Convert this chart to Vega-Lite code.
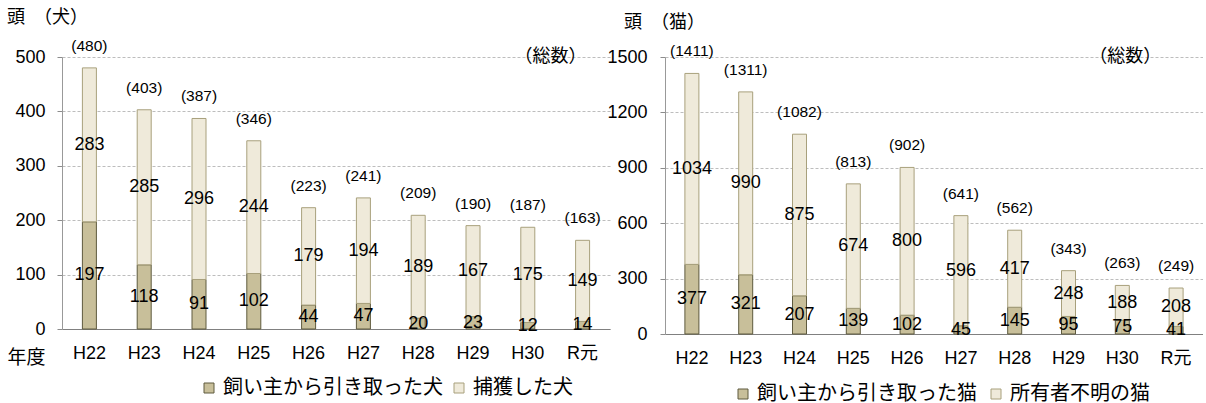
{
  "$schema": "https://vega.github.io/schema/vega-lite/v6.json",
  "padding": {"left": 7, "top": 8, "right": 0, "bottom": 6},
  "background": "white",
  "bounds": "flush",
  "spacing": 55,
  "datasets": {
    "dogs": [
      {"year": "H22", "type": "飼い主から引き取った犬", "n": 197}, {"year": "H22", "type": "捕獲した犬", "n": 283},
      {"year": "H23", "type": "飼い主から引き取った犬", "n": 118}, {"year": "H23", "type": "捕獲した犬", "n": 285},
      {"year": "H24", "type": "飼い主から引き取った犬", "n": 91}, {"year": "H24", "type": "捕獲した犬", "n": 296},
      {"year": "H25", "type": "飼い主から引き取った犬", "n": 102}, {"year": "H25", "type": "捕獲した犬", "n": 244},
      {"year": "H26", "type": "飼い主から引き取った犬", "n": 44}, {"year": "H26", "type": "捕獲した犬", "n": 179},
      {"year": "H27", "type": "飼い主から引き取った犬", "n": 47}, {"year": "H27", "type": "捕獲した犬", "n": 194},
      {"year": "H28", "type": "飼い主から引き取った犬", "n": 20}, {"year": "H28", "type": "捕獲した犬", "n": 189},
      {"year": "H29", "type": "飼い主から引き取った犬", "n": 23}, {"year": "H29", "type": "捕獲した犬", "n": 167},
      {"year": "H30", "type": "飼い主から引き取った犬", "n": 12}, {"year": "H30", "type": "捕獲した犬", "n": 175},
      {"year": "R元", "type": "飼い主から引き取った犬", "n": 14}, {"year": "R元", "type": "捕獲した犬", "n": 149}
    ],
    "dogTotals": [
      {"year": "H22", "total": 480, "label": "(480)"}, {"year": "H23", "total": 403, "label": "(403)"},
      {"year": "H24", "total": 387, "label": "(387)"}, {"year": "H25", "total": 346, "label": "(346)"},
      {"year": "H26", "total": 223, "label": "(223)"}, {"year": "H27", "total": 241, "label": "(241)"},
      {"year": "H28", "total": 209, "label": "(209)"}, {"year": "H29", "total": 190, "label": "(190)"},
      {"year": "H30", "total": 187, "label": "(187)"}, {"year": "R元", "total": 163, "label": "(163)"}
    ],
    "cats": [
      {"year": "H22", "type": "飼い主から引き取った猫", "n": 377}, {"year": "H22", "type": "所有者不明の猫", "n": 1034},
      {"year": "H23", "type": "飼い主から引き取った猫", "n": 321}, {"year": "H23", "type": "所有者不明の猫", "n": 990},
      {"year": "H24", "type": "飼い主から引き取った猫", "n": 207}, {"year": "H24", "type": "所有者不明の猫", "n": 875},
      {"year": "H25", "type": "飼い主から引き取った猫", "n": 139}, {"year": "H25", "type": "所有者不明の猫", "n": 674},
      {"year": "H26", "type": "飼い主から引き取った猫", "n": 102}, {"year": "H26", "type": "所有者不明の猫", "n": 800},
      {"year": "H27", "type": "飼い主から引き取った猫", "n": 45}, {"year": "H27", "type": "所有者不明の猫", "n": 596},
      {"year": "H28", "type": "飼い主から引き取った猫", "n": 145}, {"year": "H28", "type": "所有者不明の猫", "n": 417},
      {"year": "H29", "type": "飼い主から引き取った猫", "n": 95}, {"year": "H29", "type": "所有者不明の猫", "n": 248},
      {"year": "H30", "type": "飼い主から引き取った猫", "n": 75}, {"year": "H30", "type": "所有者不明の猫", "n": 188},
      {"year": "R元", "type": "飼い主から引き取った猫", "n": 41}, {"year": "R元", "type": "所有者不明の猫", "n": 208}
    ],
    "catTotals": [
      {"year": "H22", "total": 1411, "label": "(1411)"}, {"year": "H23", "total": 1311, "label": "(1311)"},
      {"year": "H24", "total": 1082, "label": "(1082)"}, {"year": "H25", "total": 813, "label": "(813)"},
      {"year": "H26", "total": 902, "label": "(902)"}, {"year": "H27", "total": 641, "label": "(641)"},
      {"year": "H28", "total": 562, "label": "(562)"}, {"year": "H29", "total": 343, "label": "(343)"},
      {"year": "H30", "total": 263, "label": "(263)"}, {"year": "R元", "total": 249, "label": "(249)"}
    ]
  },
  "hconcat": [
    {
      "width": 548,
      "height": 272,
      "title": {"text": "頭　（犬）", "anchor": "start", "frame": "group", "dx": -55, "fontSize": 18, "font": "Noto Sans CJK JP", "fontWeight": "normal", "color": "#000", "offset": 12},
      "layer": [
        {
          "data": {"name": "dogs"},
          "mark": {"type": "bar", "size": 14, "strokeWidth": 1},
          "encoding": {
            "x": {"field": "year", "type": "nominal", "title": "年度",
              "axis": {"labelAngle": 0, "ticks": false, "tickSize": 0, "labelPadding": 15, "labelFontSize": 18, "domain": true, "domainColor": "#808080", "domainWidth": 1, "titleX": -55, "titleY": 28, "titleAlign": "left", "titleBaseline": "middle", "titleFont": "Noto Sans CJK JP", "titleFontSize": 19, "titleFontWeight": "normal", "titleColor": "#000", "grid": false}},
            "y": {"field": "n", "type": "quantitative", "stack": "zero", "title": null, "scale": {"domain": [0, 500], "nice": false},
              "axis": {"values": [0, 100, 200, 300, 400, 500], "format": "d", "grid": true, "domain": true, "domainColor": "#999999", "domainWidth": 1, "tickSize": 5, "labelPadding": 12, "labelFontSize": 18}},
            "color": {"field": "type", "type": "nominal",
              "scale": {"domain": ["飼い主から引き取った犬", "捕獲した犬"], "range": ["#c8bf9a", "#efeada"]},
              "legend": {"orient": "none", "legendX": 137, "legendY": 321, "direction": "horizontal", "title": null, "columnPadding": 6}},
            "stroke": {"field": "type", "type": "nominal",
              "scale": {"domain": ["飼い主から引き取った犬", "捕獲した犬"], "range": ["#5e5a3e", "#a8a07c"]}, "legend": null},
            "order": {"field": "type", "sort": "descending"}
          }
        },
        {
          "data": {"name": "dogs"},
          "mark": {"type": "text", "fontSize": 18, "font": "Liberation Sans", "color": "#000", "baseline": "middle"},
          "encoding": {
            "x": {"field": "year", "type": "nominal", "title": "年度"},
            "y": {"field": "n", "type": "quantitative", "stack": "zero", "bandPosition": 0.5, "title": null},
            "detail": {"field": "type"},
            "order": {"field": "type", "sort": "descending"},
            "text": {"field": "n", "type": "quantitative"}
          }
        },
        {
          "data": {"name": "dogTotals"},
          "mark": {"type": "text", "fontSize": 15.5, "font": "Liberation Sans", "color": "#000", "baseline": "middle", "dy": -22},
          "encoding": {
            "x": {"field": "year", "type": "nominal", "title": "年度"},
            "y": {"field": "total", "type": "quantitative", "title": null},
            "text": {"field": "label"}
          }
        },
        {
          "data": {"values": [{"t": "（総数）"}]},
          "mark": {"type": "text", "fontSize": 18, "font": "Noto Sans CJK JP", "color": "#000", "baseline": "middle", "align": "center", "dx": -32},
          "encoding": {
            "x": {"datum": "R元", "type": "nominal", "title": "年度"},
            "y": {"datum": 500, "type": "quantitative", "title": null},
            "text": {"field": "t"}
          }
        }
      ]
    },
    {
      "width": 538,
      "height": 277,
      "title": {"text": "頭　（猫）", "anchor": "start", "frame": "group", "dx": -41, "fontSize": 18, "font": "Noto Sans CJK JP", "fontWeight": "normal", "color": "#000", "offset": 12},
      "layer": [
        {
          "data": {"name": "cats"},
          "mark": {"type": "bar", "size": 14, "strokeWidth": 1},
          "encoding": {
            "x": {"field": "year", "type": "nominal", "title": null,
              "axis": {"labelAngle": 0, "ticks": false, "tickSize": 0, "labelPadding": 15, "labelFontSize": 18, "domain": true, "domainColor": "#808080", "domainWidth": 1, "grid": false}},
            "y": {"field": "n", "type": "quantitative", "stack": "zero", "title": null, "scale": {"domain": [0, 1500], "nice": false},
              "axis": {"values": [0, 300, 600, 900, 1200, 1500], "format": "d", "grid": true, "domain": true, "domainColor": "#999999", "domainWidth": 1, "tickSize": 5, "labelPadding": 13, "labelFontSize": 18}},
            "color": {"field": "type", "type": "nominal",
              "scale": {"domain": ["飼い主から引き取った猫", "所有者不明の猫"], "range": ["#c8bf9a", "#efeada"]},
              "legend": {"orient": "none", "legendX": 68, "legendY": 327, "direction": "horizontal", "title": null, "columnPadding": 9}},
            "stroke": {"field": "type", "type": "nominal",
              "scale": {"domain": ["飼い主から引き取った猫", "所有者不明の猫"], "range": ["#5e5a3e", "#a8a07c"]}, "legend": null},
            "order": {"field": "type", "sort": "descending"}
          }
        },
        {
          "data": {"name": "cats"},
          "mark": {"type": "text", "fontSize": 18, "font": "Liberation Sans", "color": "#000", "baseline": "middle"},
          "encoding": {
            "x": {"field": "year", "type": "nominal", "title": null},
            "y": {"field": "n", "type": "quantitative", "stack": "zero", "bandPosition": 0.5, "title": null},
            "detail": {"field": "type"},
            "order": {"field": "type", "sort": "descending"},
            "text": {"field": "n", "type": "quantitative"}
          }
        },
        {
          "data": {"name": "catTotals"},
          "mark": {"type": "text", "fontSize": 15.5, "font": "Liberation Sans", "color": "#000", "baseline": "middle", "dy": -22},
          "encoding": {
            "x": {"field": "year", "type": "nominal", "title": null},
            "y": {"field": "total", "type": "quantitative", "title": null},
            "text": {"field": "label"}
          }
        },
        {
          "data": {"values": [{"t": "（総数）"}]},
          "mark": {"type": "text", "fontSize": 18, "font": "Noto Sans CJK JP", "color": "#000", "baseline": "middle", "align": "center", "dx": 3},
          "encoding": {
            "x": {"datum": "H30", "type": "nominal", "title": null},
            "y": {"datum": 1500, "type": "quantitative", "title": null},
            "text": {"field": "t"}
          }
        }
      ]
    }
  ],
  "resolve": {
    "scale": {"color": "independent", "stroke": "independent", "x": "independent", "y": "independent"},
    "legend": {"color": "independent"}
  },
  "config": {
    "view": {"stroke": null},
    "font": "Liberation Sans, Noto Sans CJK JP",
    "axis": {
      "labelFont": "Liberation Sans, Noto Sans CJK JP",
      "labelColor": "#000",
      "tickColor": "#8c8c8c",
      "gridColor": "#bdbdbd",
      "gridDash": [3, 2],
      "gridWidth": 1
    },
    "legend": {
      "labelFont": "Noto Sans CJK JP",
      "labelFontSize": 20,
      "labelColor": "#000",
      "labelLimit": 0,
      "labelOffset": 4,
      "symbolType": "square",
      "symbolSize": 100,
      "symbolStrokeColor": "#5c5740",
      "symbolStrokeWidth": 1,
      "symbolOpacity": 1,
      "padding": 0
    }
  }
}
